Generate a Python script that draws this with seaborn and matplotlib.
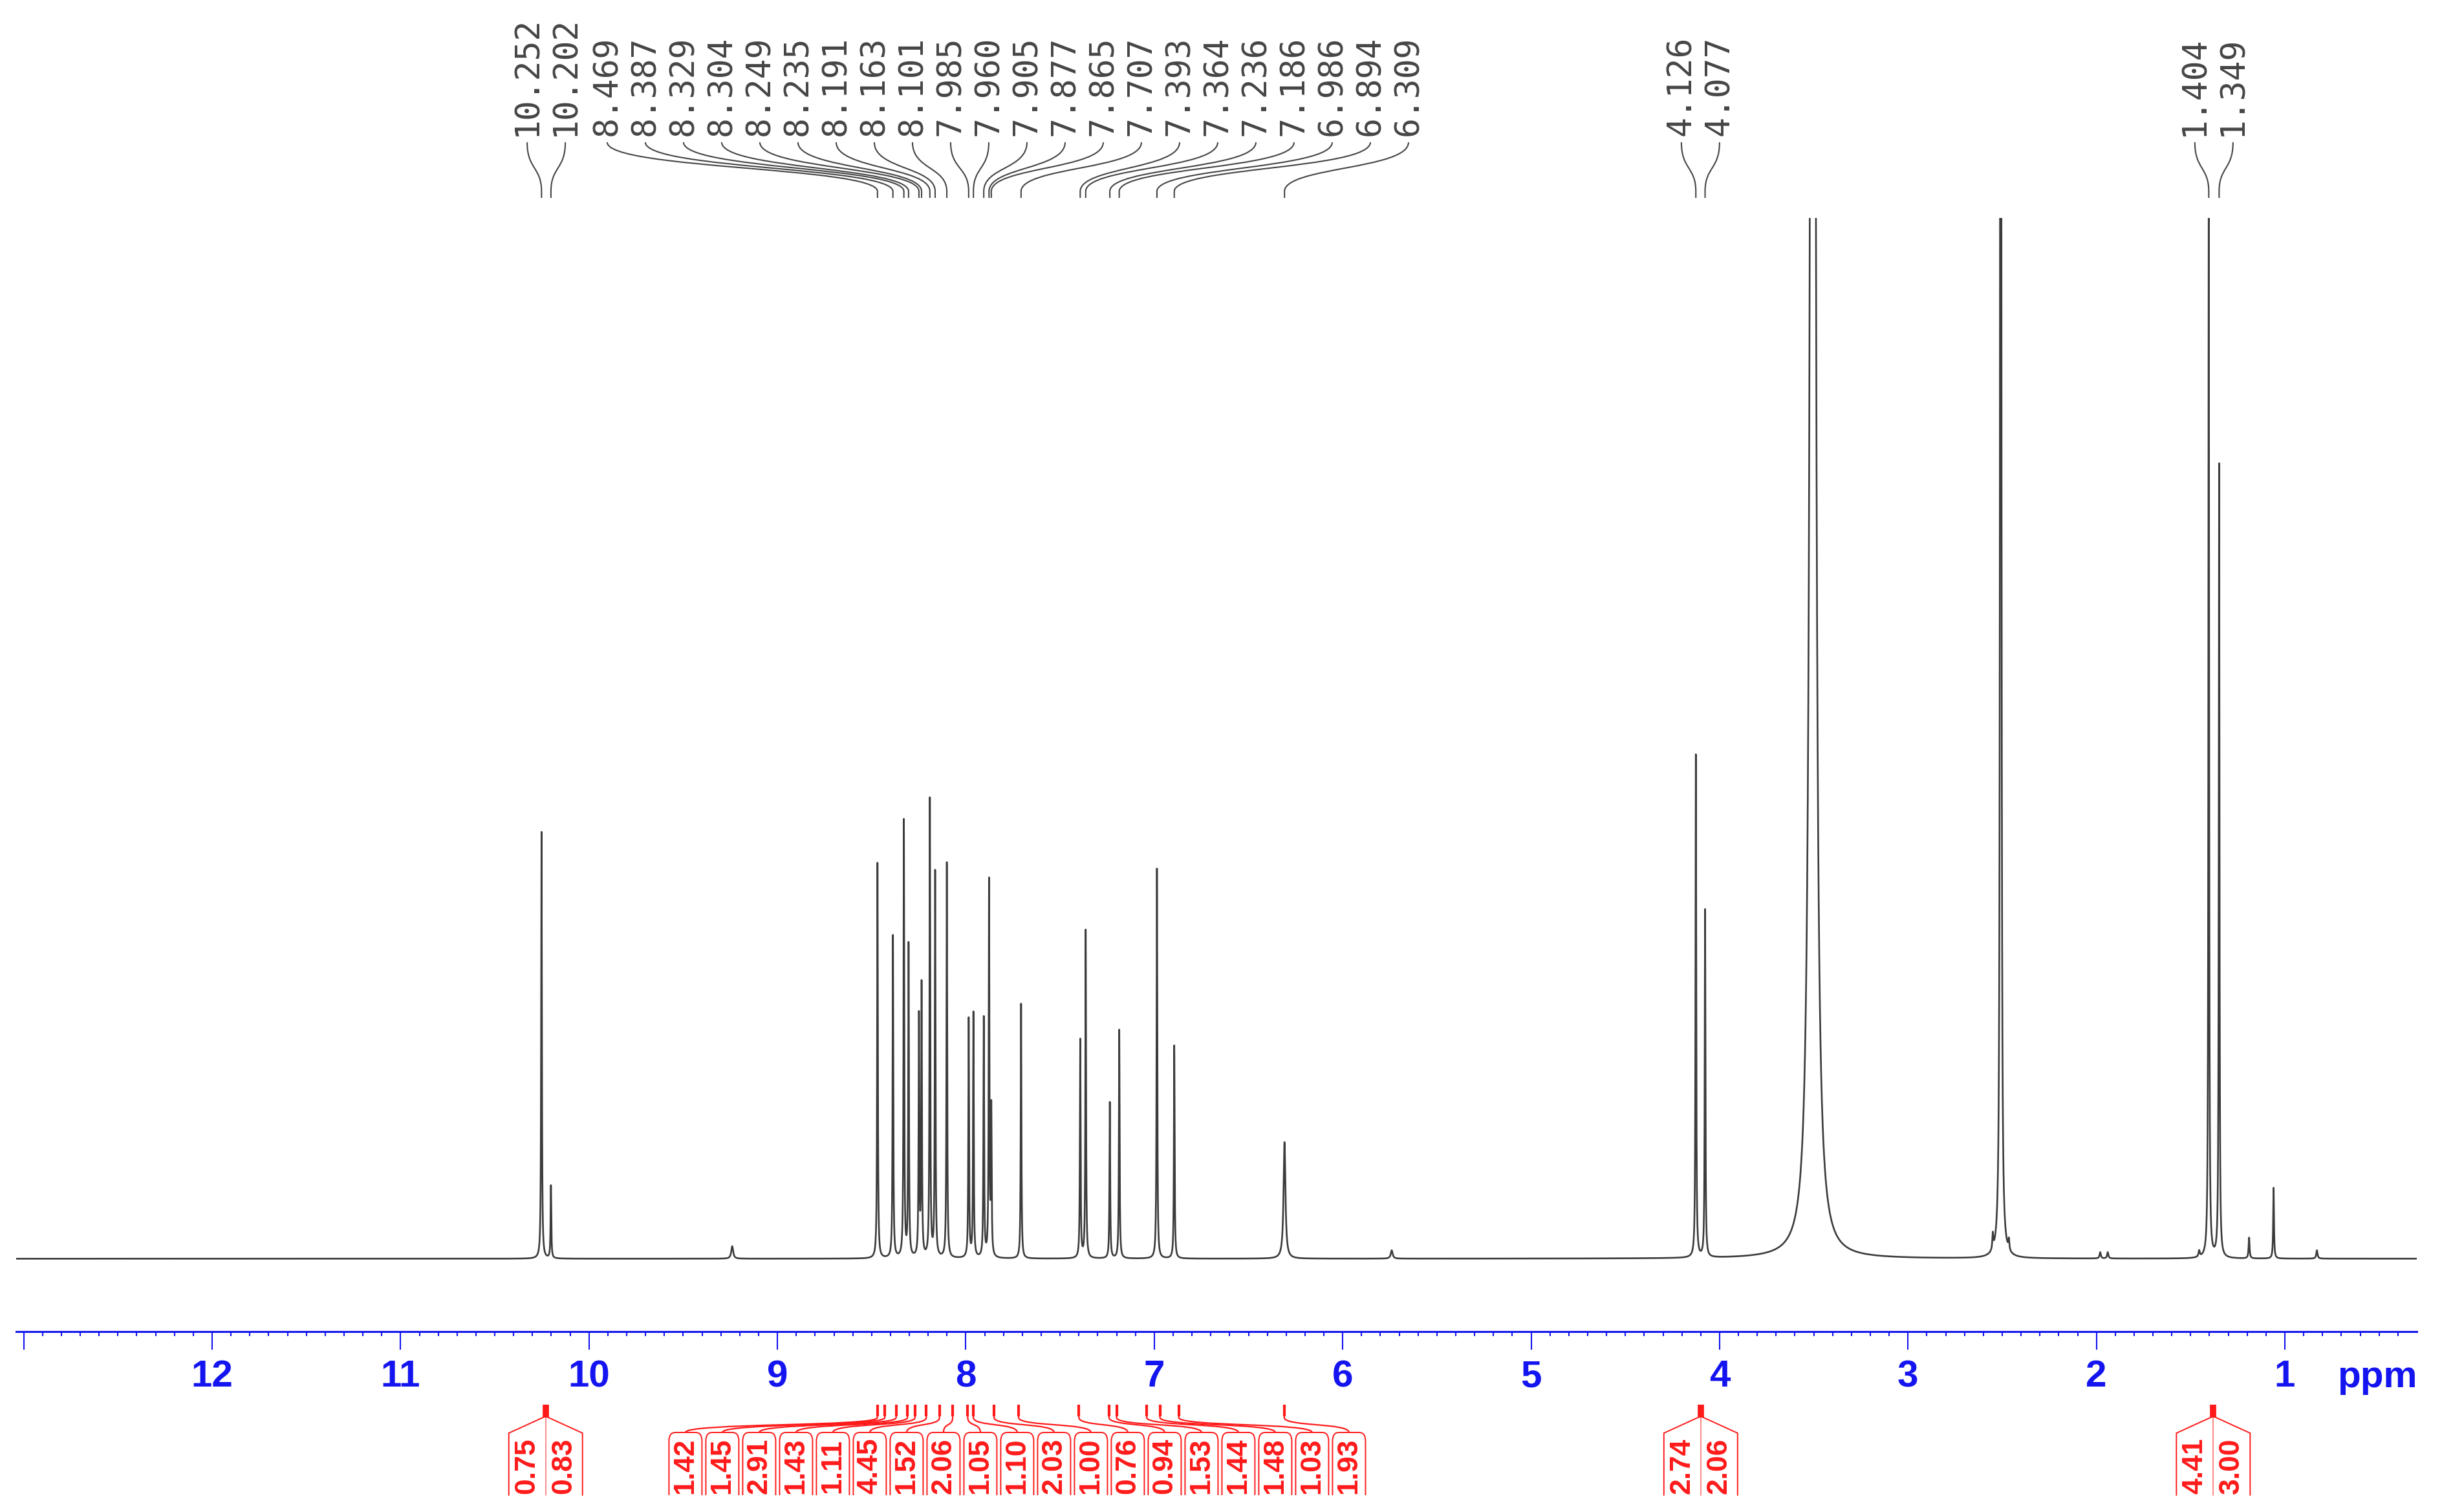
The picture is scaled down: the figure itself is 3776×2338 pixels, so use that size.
import numpy as np
import pandas as pd
import seaborn as sns
import matplotlib.pyplot as plt
from matplotlib.path import Path
from matplotlib.patches import PathPatch

# picked peaks (ppm), grouped the way the labels are fanned out on top
label_groups = [
    [10.252, 10.202],
    [8.469, 8.387, 8.329, 8.304, 8.249, 8.235, 8.191, 8.163, 8.101, 7.985, 7.960,
     7.905, 7.877, 7.865, 7.707, 7.393, 7.364, 7.236, 7.186, 6.986, 6.894, 6.309],
    [4.126, 4.077],
    [1.404, 1.349],
]
# heights of the picked peaks (1.0 = top of the plot)
label_heights = [
    [0.41, 0.07],
    [0.38, 0.31, 0.42, 0.30, 0.23, 0.26, 0.44, 0.37, 0.38, 0.23, 0.235,
     0.23, 0.36, 0.14, 0.245, 0.21, 0.315, 0.15, 0.22, 0.375, 0.205, 0.112],
    [0.484, 0.334],
    [1.05, 0.763],
]
# solvent / impurity lines that carry no label
other_ppm = [9.24, 5.74, 3.505, 2.55, 2.508, 2.465, 1.98, 1.94, 1.455, 1.19, 1.06, 0.83]
other_heights = [0.012, 0.008, 4.0, 0.015, 3.0, 0.010, 0.006, 0.006, 0.006, 0.02, 0.068, 0.008]
other_hwhm = [0.006, 0.006, 0.0095, 0.003, 0.0025, 0.003, 0.004, 0.004, 0.004, 0.003, 0.0025, 0.004]

# integrals printed under the axis
integ_values = [
    [0.75, 0.83],
    [1.42, 1.45, 2.91, 1.43, 1.11, 4.45, 1.52, 2.06, 1.05, 1.10,
     2.03, 1.00, 0.76, 0.94, 1.53, 1.44, 1.48, 1.03, 1.93],
    [2.74, 2.06],
    [4.41, 3.00],
]
integ_ppm = [
    [10.23, 10.23],
    [8.47, 8.43, 8.37, 8.31, 8.27, 8.21, 8.14, 8.07, 7.99, 7.96,
     7.85, 7.72, 7.40, 7.24, 7.20, 7.04, 6.97, 6.87, 6.31],
    [4.10, 4.10],
    [1.38, 1.38],
]

major_ticks = [13, 12, 11, 10, 9, 8, 7, 6, 5, 4, 3, 2, 1]
tick_labels = ['', '12', '11', '10', '9', '8', '7', '6', '5', '4', '3', '2', '1']

BLUE = '#1414f0'
GREY = '#3c3c3c'
LABEL_GREY = '#454545'
RED = '#ff1a1a'
W, H = 3776, 2338

sns.set_style('white')
plt.rcParams['font.family'] = ['Liberation Sans', 'DejaVu Sans']

# build the spectrum as a sum of Lorentzian lines
ppm = np.linspace(13.04, 0.30, 60000)
intensity = np.zeros_like(ppm)
for grp, hts in zip(label_groups, label_heights):
    for c, h in zip(grp, hts):
        g = 0.006 if c == 6.309 else 0.0022
        intensity += h * g**2 / (g**2 + (ppm - c)**2)
for c, h, g in zip(other_ppm, other_heights, other_hwhm):
    intensity += h * g**2 / (g**2 + (ppm - c)**2)
spec = pd.DataFrame({'ppm': ppm, 'intensity': intensity})

fig = plt.figure(figsize=(W / 100, H / 100), dpi=100)
ax = fig.add_axes([25 / W, 279 / H, 3712 / W, 1722 / H])
sns.lineplot(data=spec, x='ppm', y='intensity', ax=ax, color=GREY, lw=1.9,
             estimator=None, sort=False)
ax.set_xlim(13.04, 0.30)
ax.set_ylim(-0.07, 1.0)
ax.set_xlabel('')
ax.set_ylabel('')
ax.set_yticks([])
for s in ['top', 'left', 'right']:
    ax.spines[s].set_visible(False)
ax.spines['bottom'].set_color(BLUE)
ax.spines['bottom'].set_linewidth(2.2)
ax.set_xticks(major_ticks, labels=tick_labels, fontsize=42, fontweight='bold', color=BLUE)
ax.set_xticks(np.arange(0.4, 13.05, 0.1), minor=True)
ax.tick_params(axis='x', which='major', bottom=True, direction='out', length=20,
               width=1.5, color=BLUE, pad=11)
ax.tick_params(axis='x', which='minor', bottom=True, direction='out', length=5,
               width=1.5, color=BLUE)
fig.text(3676 / W, 1 - 2145 / H, 'ppm', ha='center', va='baseline',
         fontsize=42, fontweight='bold', color=BLUE)

# overlay in pixel coordinates (rows counted from the top) for annotations
ov = fig.add_axes([0, 0, 1, 1])
ov.set_xlim(0, W)
ov.set_ylim(H, 0)
ov.axis('off')


def to_px(v):
    return ax.transData.transform((v, 0))[0]


# peak labels and their leader lines
step = 59
for grp in label_groups:
    pxs = [to_px(p) for p in grp]
    n = len(grp)
    lxs = np.mean(pxs) + (np.arange(n) - (n - 1) / 2) * step
    for p, px, lx in zip(grp, pxs, lxs):
        ov.text(lx, 210, f'{p:.3f}', rotation=90, ha='center', va='bottom',
                family='DejaVu Sans Mono', fontsize=37, color=LABEL_GREY)
        verts = [(lx, 220), (lx, 262), (px, 258), (px, 296), (px, 306)]
        codes = [Path.MOVETO, Path.CURVE4, Path.CURVE4, Path.CURVE4, Path.LINETO]
        ov.add_patch(PathPatch(Path(verts, codes), fill=False, ec=LABEL_GREY, lw=1.5))

# integral labels
istep = 57
for vals, ppms in zip(integ_values, integ_ppm):
    pxs = [to_px(p) for p in ppms]
    n = len(vals)
    c = np.mean(pxs)
    lxs = c + (np.arange(n) - (n - 1) / 2) * istep
    for v, lx in zip(vals, lxs):
        ov.text(lx, 2267, f'{v:.2f}', rotation=90, ha='center', va='center',
                fontsize=32, fontweight='bold', color=RED)
    if n == 2:
        l, r = c - istep, c + istep
        ov.plot([l, l, c, r, r], [2312, 2216, 2190, 2216, 2312], color=RED, lw=1.4)
        ov.plot([c, c], [2190, 2312], color=RED, lw=1.2, alpha=0.6)
        ov.plot([c, c], [2172, 2192], color=RED, lw=7, solid_capstyle='butt')
    else:
        for lx, px in zip(lxs, pxs):
            l, r = lx - istep / 2 + 3, lx + istep / 2 - 3
            verts = [(l, 2312), (l, 2228), (l, 2215), (l + 10, 2215), (r - 10, 2215),
                     (r, 2215), (r, 2228), (r, 2312)]
            codes = [Path.MOVETO, Path.LINETO, Path.CURVE3, Path.CURVE3, Path.LINETO,
                     Path.CURVE3, Path.CURVE3, Path.LINETO]
            ov.add_patch(PathPatch(Path(verts, codes), fill=False, ec=RED, lw=1.4))
            verts = [(lx, 2215), (lx, 2200), (px, 2206), (px, 2192), (px, 2176)]
            codes = [Path.MOVETO, Path.CURVE4, Path.CURVE4, Path.CURVE4, Path.LINETO]
            ov.add_patch(PathPatch(Path(verts, codes), fill=False, ec=RED, lw=1.6))
            ov.plot([px, px], [2172, 2190], color=RED, lw=3, solid_capstyle='butt')

fig.savefig('out.png', dpi=100)
